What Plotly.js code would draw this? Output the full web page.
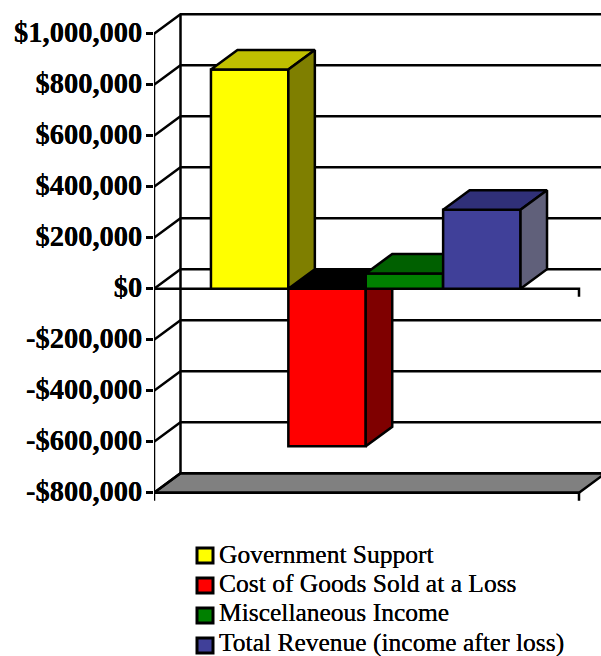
<!DOCTYPE html>
<html><head><meta charset="utf-8">
<script src="https://cdn.plot.ly/plotly-3.0.1.min.js"></script>
<style>html,body{margin:0;padding:0;background:#fff;overflow:hidden}</style>
</head><body><div id="chart" style="width:601px;height:656px"></div>
<script>
const seriesNames = ['Government Support','Cost of Goods Sold at a Loss','Miscellaneous Income','Total Revenue (income after loss)'];
const seriesValues = [860000,-618000,60000,310000];
const frontColors = ['#FFFF00','#FF0000','#008000','#404099'];
const topColors = ['#BFBF00','#000000','#006000','#303078'];
const sideColors = ['#7F7F00','#7F0000','#004000','#60607A'];
const tickValues = [1000000,800000,600000,400000,200000,0,-200000,-400000,-600000,-800000];
const tickLabels = ['$1,000,000','$800,000','$600,000','$400,000','$200,000','$0','-$200,000','-$400,000','-$600,000','-$800,000'];

const W=601,H=656,ML=154,MR=0,MT=10,MB=151;
const PW=W-ML-MR, PH=H-MT-MB;
const pxPerX=425, pxPerY=51/200000;
const xMin=-0.5, xMax=xMin+PW/pxPerX, yBase=288.7;
const yMax=(yBase-MT)/pxPerY, yMin=-(H-MB-yBase)/pxPerY;
const DX=26.5/pxPerX, DY=19.5/pxPerY;
const gapFrac=0.134, barW=0.1821;
const tickDown=8/pxPerY;
const LW=2.5;
const px=x=>(x-ML)/PW, py=y=>(H-MB-y)/PH;

function poly(xs,ys,fill,ax){return {type:'scatter',mode:'lines',x:xs,y:ys,fill:'toself',fillcolor:fill,
  line:{color:'#000',width:LW,simplify:false},cliponaxis:false,hoverinfo:'skip',showlegend:false,xaxis:ax[0],yaxis:ax[1]};}
function path(xs,ys){return {type:'scatter',mode:'lines',x:xs,y:ys,line:{color:'#000',width:LW,simplify:false},
  cliponaxis:false,hoverinfo:'skip',showlegend:false,xaxis:'x',yaxis:'y'};}

const traces=[];
const vTop=tickValues[0], vBot=tickValues[tickValues.length-1], xL=xMin, xR=xMin+1;
traces.push(poly([xL,xL+DX,xR+DX,xR,xL],[vBot,vBot+DY,vBot+DY,vBot,vBot],'#808080',['x','y']));
tickValues.forEach(v=>{traces.push(path([xL,xL+DX,xR+DX],[v,v+DY,v+DY]));});
traces.push(path([xL+DX,xL+DX],[vBot+DY,vTop+DY]));
traces.push(path([xL,xL],[vBot-tickDown,vTop]));
traces.push(path([xL,xR,xR],[0,0,-tickDown]));
traces.push(path([xL,xR,xR],[vBot,vBot,vBot-tickDown]));

const order=[1,0,2,3];
order.forEach((i,k)=>{
  const n=k+2, ax=['x'+n,'y'+n];
  const a=xMin+gapFrac+i*barW, b=a+barW, v=seriesValues[i];
  const hi=Math.max(v,0), lo=Math.min(v,0);
  traces.push({type:'bar',x:[a+barW/2],y:[v],width:[barW],name:seriesNames[i],
    marker:{color:frontColors[i],line:{color:'#000',width:LW}},hoverinfo:'name+y',showlegend:false,xaxis:ax[0],yaxis:ax[1]});
  traces.push(poly([a,a+DX,b+DX,b,a],[hi,hi+DY,hi+DY,hi,hi],topColors[i],ax));
  traces.push(poly([b,b+DX,b+DX,b,b],[hi,hi+DY,lo+DY,lo,hi],sideColors[i],ax));
});

const layout={width:W,height:H,margin:{l:ML,r:MR,t:MT,b:MB,pad:0},paper_bgcolor:'#fff',plot_bgcolor:'#fff',
  showlegend:false,barmode:'overlay',
  font:{family:'"Liberation Serif",serif',color:'#000'},
  xaxis:{range:[xMin,xMax],visible:false,fixedrange:true},
  yaxis:{range:[yMin,yMax],showgrid:false,zeroline:false,showline:false,fixedrange:true,
    tickmode:'array',tickvals:tickValues,ticktext:tickLabels,ticks:'outside',ticklen:7,tickwidth:LW,tickcolor:'#000',
    ticklabelstandoff:-2,ticklabelshift:-2,
    tickfont:{family:'"Liberation Serif",serif',size:28.5,color:'#000',weight:700,shadow:'0 0 0.6px #000'}},
  annotations:[],shapes:[]};
order.forEach((i,k)=>{const n=k+2;
  layout['xaxis'+n]={range:[xMin,xMax],visible:false,overlaying:'x',fixedrange:true,anchor:'y'+n};
  layout['yaxis'+n]={range:[yMin,yMax],visible:false,overlaying:'y',fixedrange:true,anchor:'x'+n,showgrid:false,zeroline:false};
});
seriesNames.forEach((s,i)=>{
  const yc=555.5+30*i;
  layout.shapes.push({type:'rect',xref:'paper',yref:'paper',x0:px(197),x1:px(213),y0:py(yc-7.5),y1:py(yc+7.5),
    fillcolor:frontColors[i],line:{color:'#000',width:3}});
  layout.annotations.push({xref:'paper',yref:'paper',x:px(217),y:py(554+29.4*i),xanchor:'left',yanchor:'middle',showarrow:false,
    text:s,font:{family:'"Liberation Serif",serif',size:25.5,color:'#000',shadow:'0 0 0.6px #000'}});
});
Plotly.newPlot('chart',traces,layout,{displayModeBar:false,staticPlot:true});
</script></body></html>
